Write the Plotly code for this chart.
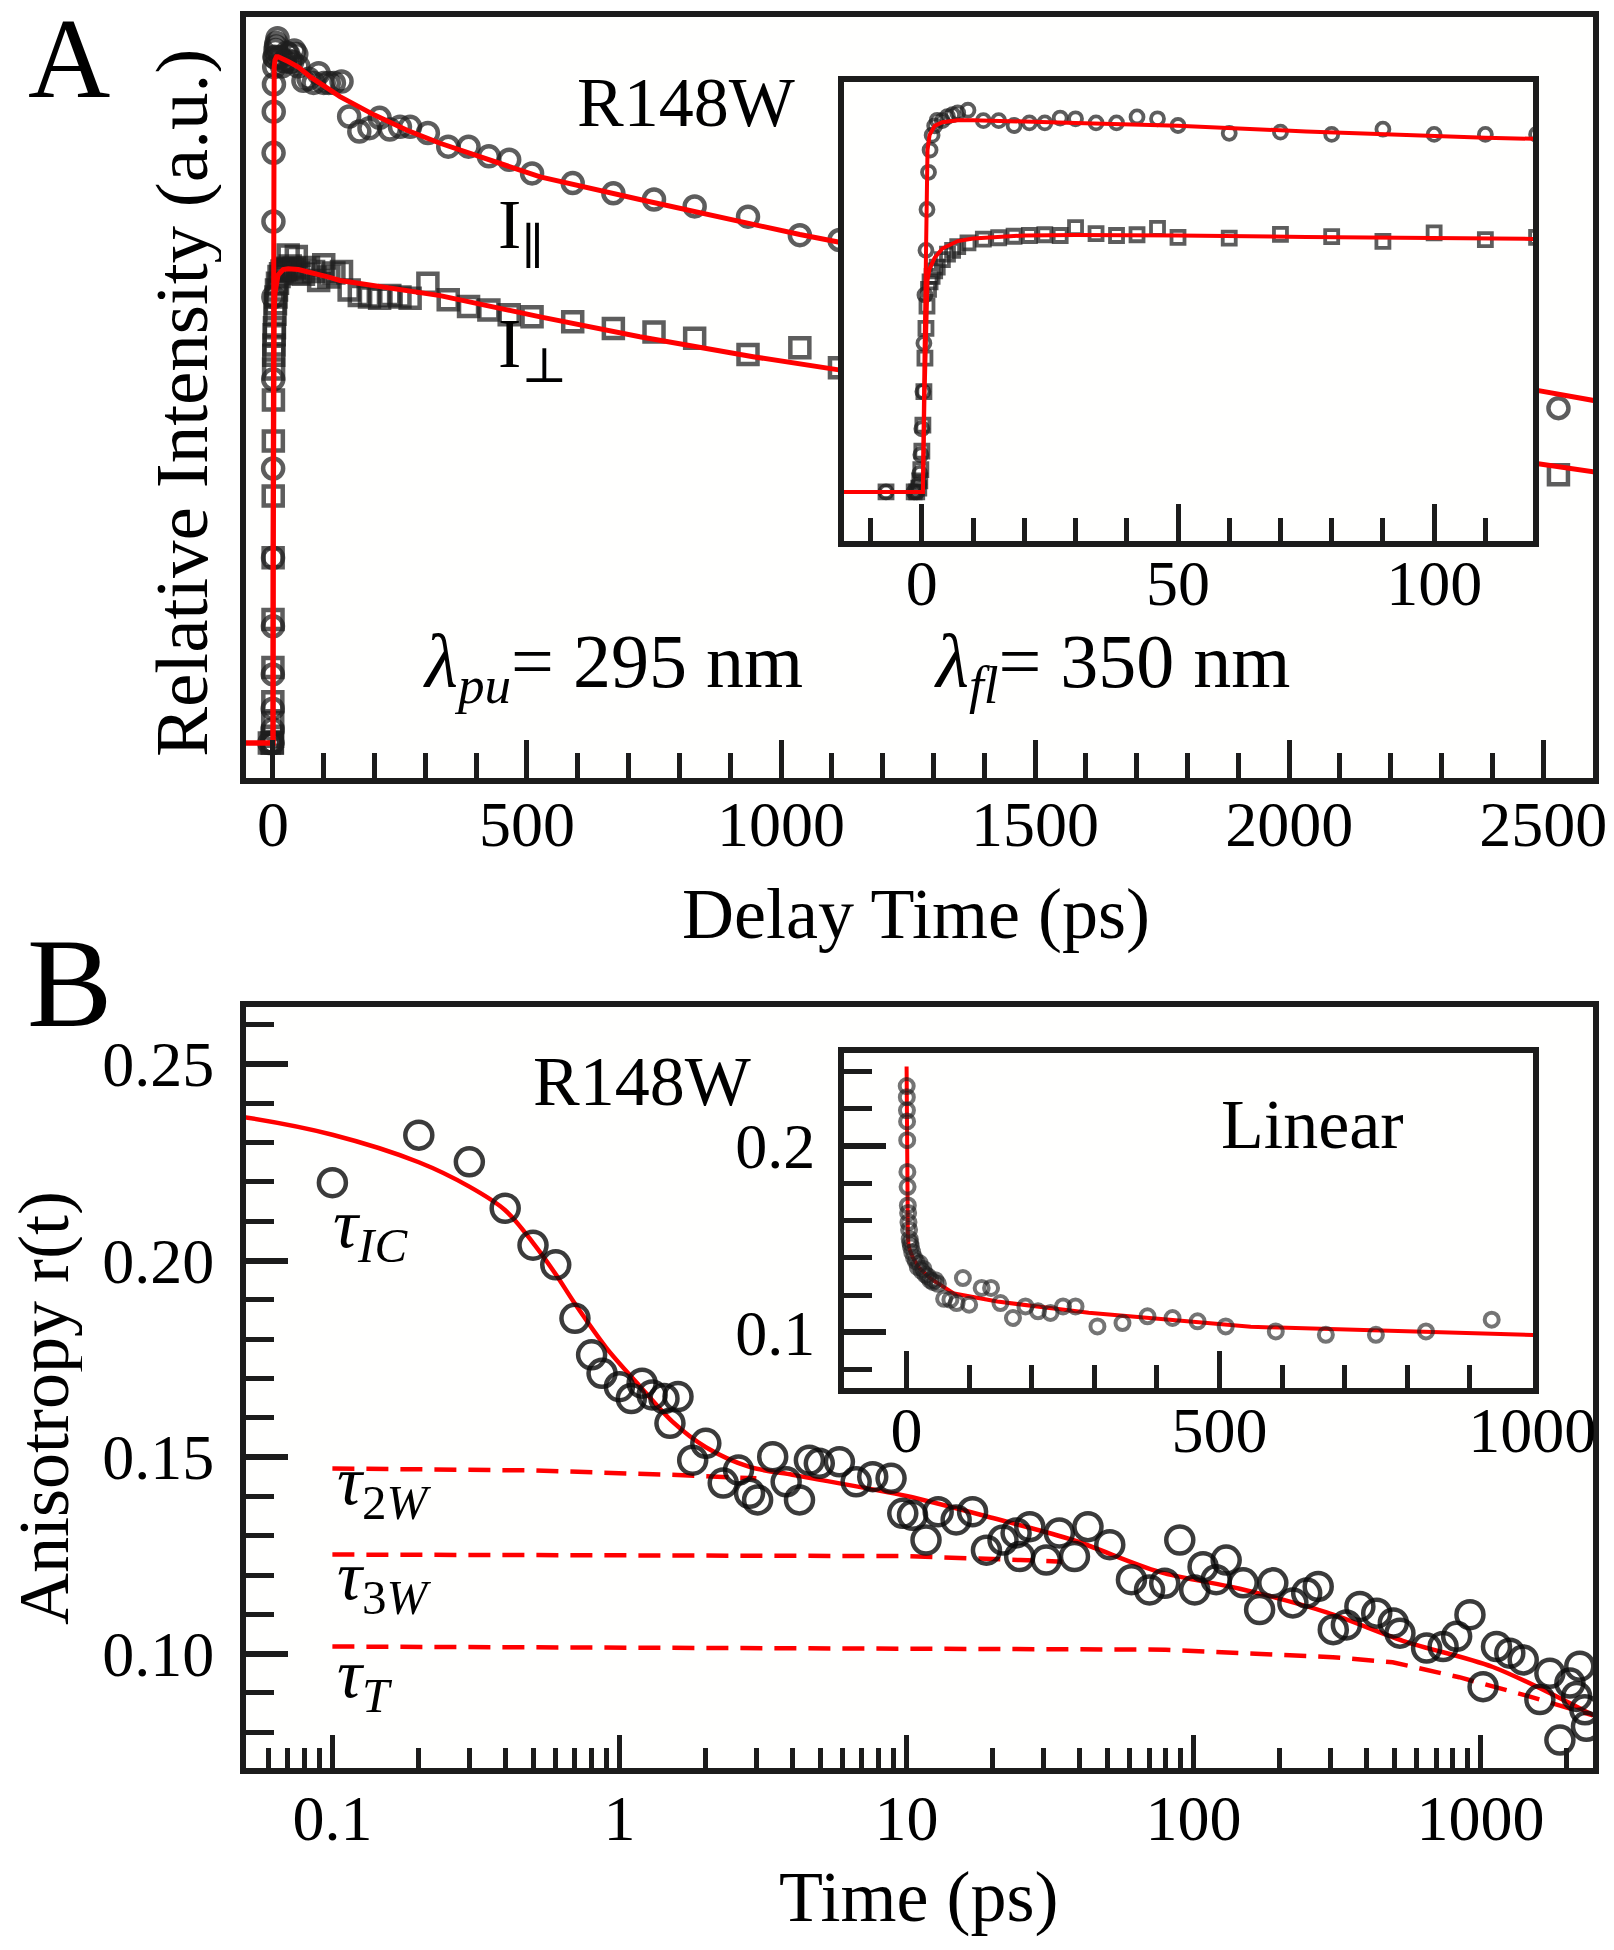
import plotly.graph_objects as go

W, H = 1614, 1950
OFF = 8  # the page body adds an 8 px offset to the figure

# ---------------- Panel A data (delay time in ps, normalised intensity) ----------------
t_delay = [-7, -1.5, -1.0, -0.6, -0.4, -0.2, 0, 0.2, 0.4, 0.6,
           0.8, 1.0, 1.3, 1.6, 2.0, 2.5, 3, 4, 5, 6,
           7, 9, 12, 15, 18, 21, 24, 27, 30, 34,
           38, 42, 46, 50, 60, 70, 80, 90, 100, 110,
           120, 135, 150, 170, 190, 210, 230, 250, 270, 305,
           345, 385, 425, 465, 510, 590, 670, 750, 830, 935,
           1037, 1115, 2530]
i_par = [0.0, 0.0, 0.0, 0.02, 0.05, 0.10, 0.17, 0.27, 0.40, 0.53,
         0.65, 0.76, 0.86, 0.92, 0.96, 0.985, 1.0, 0.999, 1.01, 1.015,
         1.020, 1.027, 0.999, 0.999, 0.986, 0.993, 0.993, 1.006, 1.004, 0.993,
         0.993, 1.009, 1.004, 0.986, 0.965, 0.968, 0.962, 0.976, 0.962, 0.962,
         0.962, 0.964, 0.913, 0.891, 0.896, 0.911, 0.894, 0.898, 0.898, 0.889,
         0.869, 0.869, 0.855, 0.850, 0.830, 0.816, 0.801, 0.792, 0.782, 0.767,
         0.740, 0.733, 0.488]
i_perp = [0.0, 0.0, 0.0, 0.01, 0.03, 0.06, 0.11, 0.18, 0.27, 0.36,
          0.44, 0.50, 0.545, 0.565, 0.58, 0.595, 0.605, 0.625, 0.64, 0.65,
          0.66, 0.67, 0.68, 0.684, 0.688, 0.69, 0.692, 0.69, 0.711, 0.695,
          0.69, 0.692, 0.709, 0.685, 0.683, 0.693, 0.687, 0.674, 0.697, 0.679,
          0.685, 0.687, 0.660, 0.652, 0.650, 0.648, 0.652, 0.650, 0.648, 0.670,
          0.646, 0.636, 0.631, 0.624, 0.621, 0.614, 0.604, 0.599, 0.590, 0.566,
          0.576, 0.547, 0.391]

fitA_t = [-60, 0.2, 0.5, 0.8, 1.1, 1.5, 2.5, 4, 7, 10,
          20, 30, 50, 75, 110, 132, 200, 264, 329, 526,
          722, 945, 1037, 1120, 2480, 2600]
fitA_par = [0, 0, 0.35, 0.75, 0.92, 0.96, 0.985, 0.995, 1.0, 1.0,
            0.997, 0.993, 0.985, 0.970, 0.953, 0.942, 0.915, 0.893, 0.874, 0.825,
            0.792, 0.755, 0.741, 0.729, 0.515, 0.499]
fitA_perp = [0, 0, 0.25, 0.48, 0.57, 0.60, 0.63, 0.655, 0.675, 0.682,
             0.690, 0.691, 0.690, 0.686, 0.679, 0.674, 0.666, 0.660, 0.652, 0.621,
             0.592, 0.563, 0.552, 0.543, 0.408, 0.395]

# ---------------- Panel B data (time in ps, anisotropy) ----------------
t_aniso = [0.1, 0.2, 0.3, 0.4, 0.5, 0.6, 0.7, 0.8, 0.87, 1.0,
           1.1, 1.2, 1.3, 1.43, 1.5, 1.6, 1.8, 2.0, 2.3, 2.6,
           2.84, 3.03, 3.42, 3.81, 4.24, 4.59, 4.97, 5.84, 6.68, 7.63,
           8.84, 9.71, 10.5, 11.7, 12.9, 14.9, 17.0, 19.0, 21.7, 24.1,
           24.8, 26.9, 30.7, 34.1, 38.5, 42.9, 51.1, 60.8, 70.3, 79.4,
           89.6, 101, 108, 120, 130, 149, 170, 189, 222, 248,
           272, 307, 341, 380, 435, 497, 524, 649, 741, 826,
           919, 1021, 1137, 1265, 1409, 1610, 1745, 1891, 2049, 2163,
           2218, 2311, 2340]
r_aniso = [0.2198, 0.2319, 0.2251, 0.2133, 0.2039, 0.1989, 0.1853, 0.1760, 0.1713, 0.1679,
           0.1649, 0.1688, 0.1658, 0.1649, 0.1586, 0.1654, 0.1492, 0.1535, 0.1434, 0.1467,
           0.1408, 0.1391, 0.1501, 0.1437, 0.1391, 0.1492, 0.1484, 0.1488, 0.1437, 0.1450,
           0.1446, 0.1357, 0.1352, 0.1289, 0.1361, 0.1340, 0.1361, 0.1263, 0.1289, 0.1307,
           0.1247, 0.1323, 0.1238, 0.1307, 0.1247, 0.1323, 0.1277, 0.1188, 0.1162, 0.1179,
           0.1289, 0.1162, 0.1221, 0.1188, 0.1238, 0.1180, 0.1112, 0.1180, 0.1129, 0.1154,
           0.1171, 0.1061, 0.1073, 0.1120, 0.1103, 0.1078, 0.1052, 0.1014, 0.1018, 0.1044,
           0.1099, 0.0916, 0.1018, 0.1001, 0.0984, 0.0883, 0.0950, 0.0780, 0.0925, 0.0891,
           0.0968, 0.0857, 0.0815]

fitB_t = [0.01, 0.05, 0.1, 0.2, 0.3, 0.4, 0.5, 0.6, 0.7, 0.9,
          1.17, 1.53, 2.0, 2.84, 4, 5, 10, 20, 38, 76,
          145, 291, 550, 1104, 2466]
fitB_r = [0.2425, 0.2364, 0.2320, 0.2250, 0.2188, 0.2128, 0.2045, 0.1965, 0.1890, 0.1778,
          0.1683, 0.1590, 0.1525, 0.1475, 0.1455, 0.1442, 0.1401, 0.1345, 0.1289, 0.1208,
          0.1165, 0.1105, 0.1030, 0.0966, 0.0843]

tau2w_t = [0.1, 0.5, 1.5, 3.0]
tau2w_r = [0.1471, 0.1466, 0.1455, 0.1446]
tau3w_t = [0.1, 1, 10, 25, 35]
tau3w_r = [0.1252, 0.1251, 0.1248, 0.1238, 0.1234]
tauT_t = [0.1, 10, 80, 306, 494, 843, 1447, 2466]
tauT_r = [0.1018, 0.1013, 0.1010, 0.0991, 0.0978, 0.0940, 0.0893, 0.0843]

# inset B (linear time axis)
t_lin = [0.2, 0.4, 0.6, 0.8, 1.0, 1.3, 1.6, 2.0, 2.5, 3,
         4, 5, 6, 7, 9, 12, 15, 18, 21, 24,
         27, 30, 34, 38, 42, 46, 50, 60, 70, 80,
         90, 100, 120, 135, 150, 170, 190, 210, 230, 250,
         270, 305, 345, 385, 425, 465, 510, 590, 670, 750,
         830, 935]
r_lin = [0.232, 0.226, 0.219, 0.213, 0.203, 0.186, 0.178, 0.168, 0.164, 0.159,
         0.155, 0.150, 0.148, 0.146, 0.143, 0.140, 0.138, 0.135, 0.137, 0.133,
         0.134, 0.131, 0.130, 0.128, 0.127, 0.128, 0.126, 0.118, 0.1175, 0.1157,
         0.1291, 0.1148, 0.1238, 0.1238, 0.1157, 0.1077, 0.1139, 0.1113, 0.1104, 0.1139,
         0.1139, 0.1032, 0.1050, 0.1086, 0.1077, 0.1059, 0.1032, 0.1005, 0.0987, 0.0987,
         0.1005, 0.1068]

# ---------------- styling ----------------
FONT = "Liberation Serif, DejaVu Serif, serif"
RED = "#ff0000"
AXC = "#1c1c1c"
MK_A = "rgba(30,30,30,0.72)"
MK_B = "rgba(10,10,10,0.8)"
MK_BI = "rgba(30,30,30,0.62)"


def px_x(x):
    return (x - OFF) / W


def px_y(y):
    return 1 - (y - OFF) / H


fig = go.Figure()

# main A
fig.add_trace(go.Scatter(x=t_delay, y=i_par, mode="markers", xaxis="x", yaxis="y",
                         marker=dict(symbol="circle-open", size=20, color=MK_A,
                                     line=dict(width=4.5, color=MK_A))))
fig.add_trace(go.Scatter(x=t_delay, y=i_perp, mode="markers", xaxis="x", yaxis="y",
                         marker=dict(symbol="square-open", size=19, color=MK_A,
                                     line=dict(width=4.5, color=MK_A))))
fig.add_trace(go.Scatter(x=fitA_t, y=fitA_par, mode="lines", xaxis="x", yaxis="y",
                         line=dict(color=RED, width=5)))
fig.add_trace(go.Scatter(x=fitA_t, y=fitA_perp, mode="lines", xaxis="x", yaxis="y",
                         line=dict(color=RED, width=5)))

# inset A
fig.add_trace(go.Scatter(x=t_delay, y=i_par, mode="markers", xaxis="x2", yaxis="y2",
                         marker=dict(symbol="circle-open", size=13, color=MK_A,
                                     line=dict(width=3.8, color=MK_A))))
fig.add_trace(go.Scatter(x=t_delay, y=i_perp, mode="markers", xaxis="x2", yaxis="y2",
                         marker=dict(symbol="square-open", size=13, color=MK_A,
                                     line=dict(width=3.8, color=MK_A))))
fig.add_trace(go.Scatter(x=fitA_t, y=fitA_par, mode="lines", xaxis="x2", yaxis="y2",
                         line=dict(color=RED, width=4)))
fig.add_trace(go.Scatter(x=fitA_t, y=fitA_perp, mode="lines", xaxis="x2", yaxis="y2",
                         line=dict(color=RED, width=4)))

# main B
DASH = "22px,12px"
fig.add_trace(go.Scatter(x=tau2w_t, y=tau2w_r, mode="lines", xaxis="x3", yaxis="y3",
                         line=dict(color=RED, width=4.5, dash=DASH)))
fig.add_trace(go.Scatter(x=tau3w_t, y=tau3w_r, mode="lines", xaxis="x3", yaxis="y3",
                         line=dict(color=RED, width=4.5, dash=DASH)))
fig.add_trace(go.Scatter(x=tauT_t, y=tauT_r, mode="lines", xaxis="x3", yaxis="y3",
                         line=dict(color=RED, width=4.5, dash=DASH)))
fig.add_trace(go.Scatter(x=fitB_t, y=fitB_r, mode="lines", xaxis="x3", yaxis="y3",
                         line=dict(color=RED, width=4.5, shape="spline", smoothing=0.9)))
fig.add_trace(go.Scatter(x=t_aniso, y=r_aniso, mode="markers", xaxis="x3", yaxis="y3",
                         marker=dict(symbol="circle-open", size=27, color=MK_B,
                                     line=dict(width=4.5, color=MK_B))))

# inset B
fig.add_trace(go.Scatter(x=fitB_t, y=fitB_r, mode="lines", xaxis="x4", yaxis="y4",
                         line=dict(color=RED, width=4)))
fig.add_trace(go.Scatter(x=t_lin, y=r_lin, mode="markers", xaxis="x4", yaxis="y4",
                         marker=dict(symbol="circle-open", size=14, color=MK_BI,
                                     line=dict(width=4, color=MK_BI))))


def base_axis(**kw):
    d = dict(showline=True, linewidth=6, linecolor=AXC, mirror=True, automargin=False,
             showgrid=False, zeroline=False, ticks="inside", tickcolor=AXC,
             tickfont=dict(family=FONT, size=64, color="black"))
    d.update(kw)
    return d


def minor(vals, ln):
    return dict(tickvals=vals, ticks="inside", ticklen=ln, tickwidth=5, tickcolor=AXC)


mainA_x = [246, 1593]
mainA_y = [17, 778]
insA_x = [844, 1533]
insA_y = [82, 541]
mainB_y = [1007, 1768]
insB_y = [1053, 1388]

fig.update_layout(
    width=W, height=H, margin=dict(l=0, r=0, t=0, b=0, autoexpand=False),
    paper_bgcolor="white", plot_bgcolor="#fffffe", showlegend=False,
    xaxis=base_axis(domain=[px_x(mainA_x[0]), px_x(mainA_x[1])], anchor="y",
                    range=[-53, 2598], tickvals=[0, 500, 1000, 1500, 2000, 2500],
                    ticktext=["0", "500", "1000", "1500", "2000", "2500"],
                    ticklen=38, tickwidth=5, ticklabelstandoff=-15,
                    minor=minor([v for v in range(100, 2600, 100) if v % 500], 25)),
    yaxis=base_axis(domain=[px_y(mainA_y[1]), px_y(mainA_y[0])], anchor="x",
                    range=[-0.051, 1.058], ticks="", showticklabels=False),
    xaxis2=base_axis(domain=[px_x(insA_x[0]), px_x(insA_x[1])], anchor="y2",
                     range=[-15.2, 119.3], tickvals=[0, 50, 100], ticktext=["0", "50", "100"],
                     ticklen=37, tickwidth=5, ticklabelstandoff=-19,
                     minor=minor([-10, 10, 20, 30, 40, 60, 70, 80, 90, 110], 23)),
    yaxis2=base_axis(domain=[px_y(insA_y[1]), px_y(insA_y[0])], anchor="x2",
                     range=[-0.132, 1.103], ticks="", showticklabels=False),
    xaxis3=base_axis(domain=[px_x(mainA_x[0]), px_x(mainA_x[1])], anchor="y3",
                     type="log", range=[-1.301, 3.392],
                     tickvals=[0.1, 1, 10, 100, 1000], ticktext=["0.1", "1", "10", "100", "1000"],
                     ticklen=33, tickwidth=5, ticklabelstandoff=-11,
                     minor=minor([0.06, 0.07, 0.08, 0.09,
                                  0.2, 0.3, 0.4, 0.5, 0.6, 0.7, 0.8, 0.9,
                                  2, 3, 4, 5, 6, 7, 8, 9,
                                  20, 30, 40, 50, 60, 70, 80, 90,
                                  200, 300, 400, 500, 600, 700, 800, 900, 2000], 20)),
    yaxis3=base_axis(domain=[px_y(mainB_y[1]), px_y(mainB_y[0])], anchor="x3",
                     range=[0.0709, 0.2645], tickvals=[0.10, 0.15, 0.20, 0.25],
                     ticktext=["0.10", "0.15", "0.20", "0.25"],
                     ticklen=42, tickwidth=5.5, ticklabelstandoff=13,
                     minor=minor([0.08, 0.09, 0.11, 0.12, 0.13, 0.14, 0.16, 0.17, 0.18, 0.19,
                                  0.21, 0.22, 0.23, 0.24, 0.26], 28)),
    xaxis4=base_axis(domain=[px_x(insA_x[0]), px_x(insA_x[1])], anchor="y4",
                     range=[-100, 1001], tickvals=[0, 500, 1000], ticktext=["0", "500", "1000"],
                     ticklen=37, tickwidth=5, ticklabelstandoff=-19,
                     minor=minor([100, 200, 300, 400, 600, 700, 800, 900], 23)),
    yaxis4=base_axis(domain=[px_y(insB_y[1]), px_y(insB_y[0])], anchor="x4",
                     range=[0.0702, 0.2497], tickvals=[0.1, 0.2], ticktext=["0.1", "0.2"],
                     ticklen=42, tickwidth=5.5, ticklabelstandoff=10,
                     minor=minor([0.08, 0.12, 0.14, 0.16, 0.18, 0.22, 0.24], 28)),
)


def note(text, x, y, size=70, xanchor="center", angle=0, height=None):
    kw = {}
    if height is not None:
        kw["height"] = height
    fig.add_annotation(text=text, x=px_x(x), y=px_y(y), xref="paper", yref="paper",
                       showarrow=False, xanchor=xanchor, yanchor="middle", textangle=angle,
                       font=dict(family=FONT, size=size, color="black"), **kw)


note("A", 69, 58, size=114, height=90)
note("B", 69, 983, size=128, height=96)
note("R148W", 686, 102)
note("I<sub>∥</sub>", 496, 230, xanchor="left")
note("I<sub>⊥</sub>", 496, 349, xanchor="left")
note("<i>λ</i><sub><i>pu</i></sub>= 295 nm", 421, 667, size=76, xanchor="left")
note("<i>λ</i><sub><i>fl</i></sub>= 350 nm", 932, 667, size=76, xanchor="left")
note("Relative Intensity (a.u.)", 181, 403, size=75, angle=-90, height=80)
note("Delay Time (ps)", 916, 914, size=72)
note("R148W", 642, 1081)
note("<i>τ</i><sub><i>IC</i></sub>", 331, 1229, xanchor="left")
note("<i>τ</i><sub>2<i>W</i></sub>", 335, 1486, xanchor="left")
note("<i>τ</i><sub>3<i>W</i></sub>", 335, 1581, xanchor="left")
note("<i>τ</i><sub><i>T</i></sub>", 335, 1679, xanchor="left")
note("Linear", 1312, 1124)
note("Anisotropy r(t)", 44, 1408, size=72, angle=-90, height=76)
note("Time (ps)", 918, 1897, size=72)

fig.write_html("out.html")
